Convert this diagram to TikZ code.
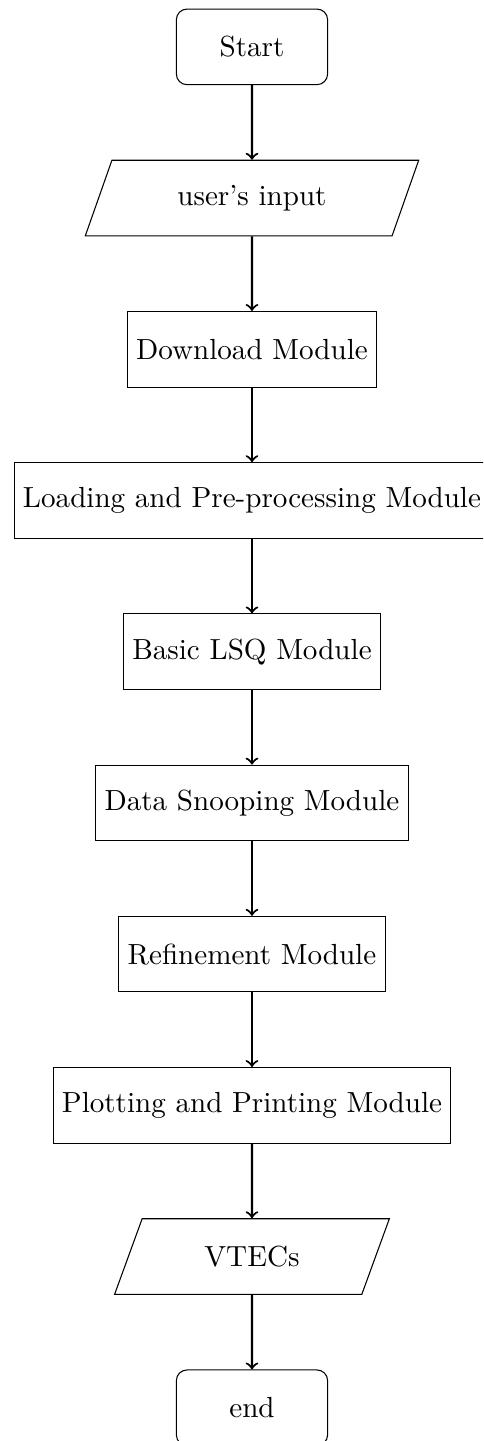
\documentclass[tikz,border=0pt]{standalone}
\usetikzlibrary{shapes.geometric}
\begin{document}
\begin{tikzpicture}[
  font=\fontsize{10.95pt}{13.6pt}\selectfont,
  startstop/.style={draw, rectangle, rounded corners, minimum width=2cm, minimum height=1cm, text centered},
  iobox/.style={draw, trapezium, trapezium left angle=70, trapezium right angle=110, trapezium stretches=true, minimum height=1cm, text centered},
  process/.style={draw, rectangle, minimum width=2cm, minimum height=1cm, text centered},
  arrow/.style={thick, ->}
]
\clip (-3.333,-18.44) rectangle (3.056,0.62);
\node[startstop] (start) at (0,0) {Start};
\node[iobox, minimum width=4.44cm] (in) at (0,-2) {user's input};
\node[process] (dl) at (0,-4) {Download Module};
\node[process] (load) at (0,-6) {Loading and Pre-processing Module};
\node[process] (lsq) at (0,-8) {Basic LSQ Module};
\node[process] (snoop) at (0,-10) {Data Snooping Module};
\node[process] (ref) at (0,-12) {Refinement Module};
\node[process] (plot) at (0,-14) {Plotting and Printing Module};
\node[iobox, minimum width=3.64cm] (vtec) at (0,-16) {VTECs};
\node[startstop] (stop) at (0,-18) {end};
\draw[arrow] (start) -- (in);
\draw[arrow] (in) -- (dl);
\draw[arrow] (dl) -- (load);
\draw[arrow] (load) -- (lsq);
\draw[arrow] (lsq) -- (snoop);
\draw[arrow] (snoop) -- (ref);
\draw[arrow] (ref) -- (plot);
\draw[arrow] (plot) -- (vtec);
\draw[arrow] (vtec) -- (stop);
\end{tikzpicture}
\end{document}
